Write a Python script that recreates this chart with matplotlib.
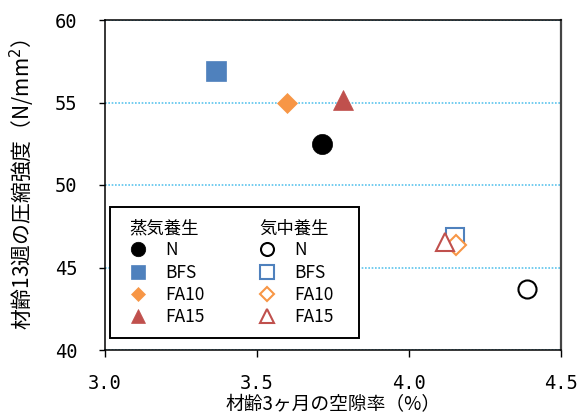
import matplotlib
matplotlib.use("Agg")
import matplotlib.pyplot as plt
from matplotlib.lines import Line2D

plt.rcParams['font.family'] = ['Noto Sans CJK JP', 'DejaVu Sans']

# Data: porosity at 3 months (%) vs compressive strength at 13 weeks (N/mm2)
mixes = ['N', 'BFS', 'FA10', 'FA15']
steam_porosity = [3.714, 3.365, 3.599, 3.782]
steam_strength = [52.5, 56.9, 55.0, 55.15]
air_porosity = [4.388, 4.152, 4.155, 4.118]
air_strength = [43.7, 46.85, 46.35, 46.55]

steam_title = '蒸気養生'
air_title = '気中養生'
x_ticks = [3.0, 3.5, 4.0, 4.5]
y_ticks = [40, 45, 50, 55, 60]
x_label = '材齢3ヶ月の空隙率（%）'
y_label = '材齢13週の圧縮強度（N/mm$^2$）'

colors = ['#000000', '#4F81BD', '#F79646', '#C0504D']
markers = ['o', 's', 'D', '^']
sizes = [14.5, 14.0, 10.2, 14.5]
air_sizes = [13.0, 13.5, 9.8, 13.5]

W, H, DPI = 587, 417, 100
fig = plt.figure(figsize=(W / DPI, H / DPI), dpi=DPI)
ax = fig.add_axes([105 / W, (H - 350) / H, (561 - 105) / W, (350 - 20) / H])

ax.set_xlim(3.0, 4.5)
ax.set_ylim(40, 60)
ax.set_xticks(x_ticks)
ax.set_yticks(y_ticks)
ax.set_xticklabels([f'{v:.1f}' for v in x_ticks], family='DejaVu Sans Mono', fontsize=13.5)
ax.set_yticklabels([str(v) for v in y_ticks], family='DejaVu Sans Mono', fontsize=13.5)
ax.tick_params(axis='x', direction='out', length=5, width=1, pad=12)
ax.tick_params(axis='y', direction='out', length=4, width=1, pad=16)

for side in ['left', 'bottom', 'top']:
    ax.spines[side].set_linewidth(1.1)
    ax.spines[side].set_color('black')
ax.spines['right'].set_linewidth(1.6)
ax.spines['right'].set_color('#444444')

ax.yaxis.grid(True, linestyle=(0, (1, 1)), color='#5BC4EC', linewidth=1.2)
ax.set_axisbelow(True)

ax.set_xlabel(x_label, fontsize=13.5, labelpad=1)
ax.set_ylabel(y_label, fontsize=15, labelpad=13)

steam_handles = []
air_handles = []
for i, name in enumerate(mixes):
    h1, = ax.plot([steam_porosity[i]], [steam_strength[i]], linestyle='none',
                  marker=markers[i], markersize=sizes[i], color=colors[i],
                  markeredgecolor=colors[i], markeredgewidth=0.5, zorder=3, label=name)
    h2, = ax.plot([air_porosity[i]], [air_strength[i]], linestyle='none',
                  marker=markers[i], markersize=air_sizes[i], markerfacecolor='white',
                  markeredgecolor=colors[i], markeredgewidth=1.5, zorder=3, label=name)
    steam_handles.append(h1)
    air_handles.append(h2)

blank = Line2D([], [], linestyle='none')
handles = [blank] + steam_handles + [blank] + air_handles
# the blank header slots reserve the room of each column's heading
labels = [' '] + mixes + ['\u3000\u3000\u3000'] + mixes

leg_fs = 12.5
hl, htp = 1.8, 0.68
leg = ax.legend(handles, labels, ncol=2, loc='lower left',
                bbox_to_anchor=(0.011, 0.036), borderaxespad=0,
                fontsize=leg_fs, frameon=True, fancybox=False, shadow=False,
                edgecolor='black', framealpha=1, markerscale=0.72,
                handlelength=hl, handletextpad=htp, columnspacing=2.7,
                labelspacing=0.24, borderpad=0.7)
leg.get_frame().set_linewidth(1.4)

fig.canvas.draw()
renderer = fig.canvas.get_renderer()
texts = leg.get_texts()
fs_px = leg_fs * DPI / 72
for idx, title in [(0, steam_title), (5, air_title)]:
    bb = texts[idx].get_window_extent(renderer)
    x_px = bb.x0 - (htp + hl / 2) * fs_px - 8
    y_px = (bb.y0 + bb.y1) / 2
    fig.text(x_px / W, y_px / H, title, fontsize=leg_fs, ha='left', va='center')

fig.savefig('out.png', dpi=DPI)
